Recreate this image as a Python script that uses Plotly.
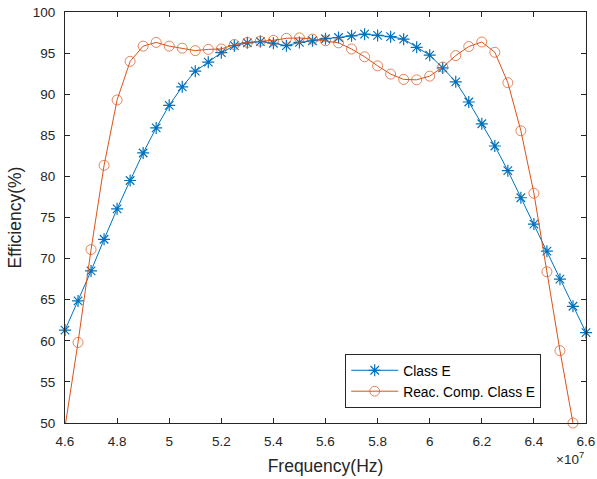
import plotly.graph_objects as go

# Frequency points (MHz)
freq_classE_mhz = [46, 46.5, 47, 47.5, 48, 48.5, 49, 49.5, 50, 50.5, 51, 51.5, 52, 52.5,
                   53, 53.5, 54, 54.5, 55, 55.5, 56, 56.5, 57, 57.5, 58, 58.5, 59, 59.5,
                   60, 60.5, 61, 61.5, 62, 62.5, 63, 63.5, 64, 64.5, 65, 65.5, 66]
eff_classE = [61.3, 64.85, 68.5, 72.35, 76.05, 79.5, 82.85, 85.9, 88.65, 90.9, 92.8, 93.9,
              95.05, 95.9, 96.25, 96.4, 96.2, 95.9, 96.3, 96.5, 96.75, 96.9, 97.1, 97.3,
              97.15, 97.0, 96.7, 95.7, 94.75, 93.2, 91.5, 89.05, 86.4, 83.7, 80.7, 77.4,
              74.2, 70.9, 67.5, 64.2, 61.0]

freq_reac_mhz = [46, 46.5, 47, 47.5, 48, 48.5, 49, 49.5, 50, 50.5, 51, 51.5, 52, 52.5,
                 53, 53.5, 54, 54.5, 55, 55.5, 56, 56.5, 57, 57.5, 58, 58.5, 59, 59.5,
                 60, 60.5, 61, 61.5, 62, 62.5, 63, 63.5, 64, 64.5, 65, 65.5]
eff_reac = [49.5, 59.8, 71.1, 81.35, 89.3, 94.0, 95.85, 96.3, 95.85, 95.6, 95.3, 95.45,
            95.5, 96.05, 96.3, 96.45, 96.55, 96.8, 96.85, 96.7, 96.5, 96.25, 95.5, 94.55,
            93.45, 92.45, 91.8, 91.75, 92.2, 93.3, 94.7, 95.8, 96.35, 95.1, 91.4, 85.55,
            77.95, 68.4, 58.8, 50.0]

x_tick_vals = [4.6e7, 4.8e7, 5.0e7, 5.2e7, 5.4e7, 5.6e7, 5.8e7, 6.0e7, 6.2e7, 6.4e7, 6.6e7]
x_tick_text = ["4.6", "4.8", "5", "5.2", "5.4", "5.6", "5.8", "6", "6.2", "6.4", "6.6"]
y_tick_vals = [50, 55, 60, 65, 70, 75, 80, 85, 90, 95, 100]

Y_MIN, Y_MAX = 50, 100

x_classE = [f * 1e6 for f in freq_classE_mhz]
x_reac = [f * 1e6 for f in freq_reac_mhz]

BLUE = "#0072BD"
ORANGE = "#D95319"
AXC = "#262626"
FONT = "Liberation Sans, Arial, Helvetica, sans-serif"

fig = go.Figure()
fig.add_trace(go.Scatter(
    x=x_classE, y=eff_classE, mode="lines+markers", name="Class E",
    line=dict(color=BLUE, width=1),
    marker=dict(symbol="asterisk-open", size=10, color=BLUE,
                line=dict(color=BLUE, width=1.2)),
    cliponaxis=False,
))
reac_sizes = [10 if Y_MIN <= v <= Y_MAX else 0 for v in eff_reac]
fig.add_trace(go.Scatter(
    x=x_reac, y=eff_reac, mode="lines+markers", name="Reac. Comp. Class E",
    line=dict(color=ORANGE, width=1),
    marker=dict(symbol="circle-open", size=reac_sizes, color=ORANGE,
                line=dict(color=ORANGE, width=1)),
    cliponaxis=False,
))

axis_common = dict(
    showgrid=False, zeroline=False, showline=True, linecolor=AXC, linewidth=1,
    mirror="ticks", ticks="inside", ticklen=5, tickwidth=1, tickcolor=AXC,
    tickfont=dict(family=FONT, size=13.5, color=AXC), automargin=False,
)

fig.update_layout(
    width=597, height=479,
    margin=dict(l=65, r=11, t=12, b=56, autoexpand=False),
    paper_bgcolor="white", plot_bgcolor="white",
    showlegend=True,
    legend=dict(
        x=0.914, y=0.037, xanchor="right", yanchor="bottom",
        bgcolor="white", bordercolor=AXC, borderwidth=1,
        font=dict(family=FONT, size=13.8, color="black"),
        tracegroupgap=0, itemwidth=47,
    ),
    xaxis=dict(
        range=[4.6e7, 6.6e7], tickvals=x_tick_vals, ticktext=x_tick_text,
        title=dict(text="Frequency(Hz)", font=dict(family=FONT, size=17.5, color=AXC), standoff=11),
        ticklabelstandoff=6,
        **axis_common,
    ),
    yaxis=dict(
        range=[Y_MIN, Y_MAX], tickvals=y_tick_vals,
        title=dict(text="Efficiency(%)", font=dict(family=FONT, size=17.5, color=AXC), standoff=6),
        ticklabelstandoff=6,
        **axis_common,
    ),
    annotations=[dict(
        text="×10<sup>7</sup>", xref="paper", yref="paper", x=1.0, y=-0.085,
        xanchor="right", yanchor="middle", showarrow=False,
        font=dict(family=FONT, size=13.5, color=AXC),
    )],
)

fig.write_html(
    "out.html",
    config={"displayModeBar": False},
    post_script="document.body.style.margin='0';document.body.style.padding='0';"
                "document.body.style.overflow='hidden';",
)
